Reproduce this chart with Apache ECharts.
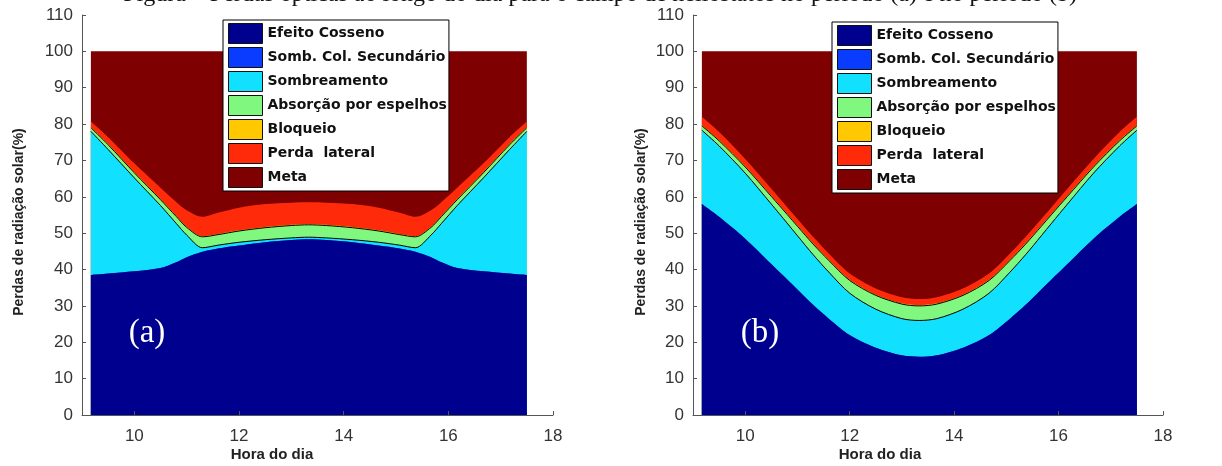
<!DOCTYPE html>
<html><head><meta charset="utf-8">
<script src="https://cdn.jsdelivr.net/npm/echarts@6/dist/echarts.min.js"></script>
<style>html,body{margin:0;padding:0;background:#fff}#c{width:1222px;height:466px}</style>
</head><body><div id="c"></div>
<script>
// ---- data ----
const hours = [9.17, 9.5, 10, 10.5, 10.8, 11.0, 11.3, 11.6, 12, 12.5, 13, 13.33, 13.67, 14.17, 14.67, 15.07, 15.37, 15.67, 15.87, 16.17, 16.67, 17.17, 17.5];
const seriesNames = ['Efeito Cosseno', 'Somb. Col. Secundário', 'Sombreamento', 'Absorção por espelhos', 'Bloqueio', 'Perda  lateral', 'Meta'];
const xTickValues = [10, 12, 14, 16, 18];

// chart (a)
const efeitoA = [38.5, 38.9, 39.5, 40.4, 42.0, 43.4, 44.9, 45.8, 46.6, 47.5, 48.1, 48.3, 48.1, 47.5, 46.6, 45.8, 44.9, 43.4, 42.0, 40.4, 39.5, 38.9, 38.5];
const sombColA = [0, 0, 0, 0, 0, 0, 0, 0, 0, 0, 0, 0, 0, 0, 0, 0, 0, 0, 0, 0, 0, 0, 0];
const sombA = [39.5, 34.1, 25.7, 17.2, 10.7, 6.1, 1.1, 0.9, 0.9, 0.7, 0.6, 0.6, 0.6, 0.7, 0.9, 0.9, 1.1, 6.1, 10.7, 17.2, 25.7, 34.1, 39.5];
const absA = [1.0, 1.3, 1.4, 1.6, 1.9, 2.1, 3.0, 2.9, 3.1, 3.3, 3.4, 3.4, 3.4, 3.3, 3.1, 2.9, 3.0, 2.1, 1.9, 1.6, 1.4, 1.3, 1.0];
const bloqA = [0.2, 0.2, 0.2, 0.2, 0.2, 0.2, 0.2, 0.2, 0.2, 0.2, 0.2, 0.2, 0.2, 0.2, 0.2, 0.2, 0.2, 0.2, 0.2, 0.2, 0.2, 0.2, 0.2];
const perdaA = [1.5, 1.9, 2.4, 3.1, 3.8, 4.5, 5.3, 5.8, 6.2, 6.3, 6.1, 6.0, 6.1, 6.3, 6.2, 5.8, 5.3, 4.5, 3.8, 3.1, 2.4, 1.9, 1.5];
const metaA = [19.3, 23.6, 30.8, 37.5, 41.4, 43.7, 45.5, 44.4, 43.0, 42.0, 41.6, 41.5, 41.6, 42.0, 43.0, 44.4, 45.5, 43.7, 41.4, 37.5, 30.8, 23.6, 19.3];

// chart (b)
const efeitoB = [58.0, 54.5, 48.5, 41.5, 37.3, 34.5, 30.3, 26.5, 22.0, 18.5, 16.4, 16.0, 16.4, 18.5, 22.0, 26.5, 30.3, 34.5, 37.3, 41.5, 48.5, 54.5, 58.0];
const sombColB = [0, 0, 0, 0, 0, 0, 0, 0, 0, 0, 0, 0, 0, 0, 0, 0, 0, 0, 0, 0, 0, 0, 0];
const sombB = [20.3, 19.5, 18.0, 16.5, 15.5, 14.8, 13.8, 12.8, 11.5, 10.6, 10.1, 10.0, 10.1, 10.6, 11.5, 12.8, 13.8, 14.8, 15.5, 16.5, 18.0, 19.5, 20.3];
const absB = [1.2, 1.4, 1.7, 2.1, 2.4, 2.6, 2.9, 3.2, 3.5, 3.8, 4.0, 4.0, 4.0, 3.8, 3.5, 3.2, 2.9, 2.6, 2.4, 2.1, 1.7, 1.4, 1.2];
const bloqB = [0.2, 0.2, 0.2, 0.2, 0.2, 0.2, 0.2, 0.2, 0.2, 0.2, 0.2, 0.2, 0.2, 0.2, 0.2, 0.2, 0.2, 0.2, 0.2, 0.2, 0.2, 0.2, 0.2];
const perdaB = [2.3, 2.2, 2.0, 1.9, 1.8, 1.8, 1.8, 1.7, 1.7, 1.7, 1.7, 1.7, 1.7, 1.7, 1.7, 1.7, 1.8, 1.8, 1.8, 1.9, 2.0, 2.2, 2.3];
const metaB = [18.0, 22.2, 29.6, 37.8, 42.8, 46.1, 51.0, 55.6, 61.1, 65.2, 67.6, 68.1, 67.6, 65.2, 61.1, 55.6, 51.0, 46.1, 42.8, 37.8, 29.6, 22.2, 18.0];

// ---- styles ----
const colors = ['#00008f', '#0a3cff', '#12e0ff', '#80f880', '#ffc800', '#ff2a0a', '#7f0000'];
const edgeWidths = [0, 0, 1, 1, 0, 0, 0];

function buildSeries(layers, idx) {
  let cum = hours.map(() => 0);
  const cums = layers.map(arr => { cum = cum.map((c, i) => c + arr[i]); return cum; });
  const out = [];
  for (let k = layers.length - 1; k >= 0; k--) {
    out.push({
      type: 'line', name: seriesNames[k], xAxisIndex: idx, yAxisIndex: idx,
      data: hours.map((h, i) => [h, +cums[k][i].toFixed(3)]),
      showSymbol: false, symbol: 'none', smooth: 0.3, silent: true,
      areaStyle: { color: colors[k], opacity: 1, origin: 'start' },
      lineStyle: { color: '#000', width: edgeWidths[k] },
      itemStyle: { color: colors[k] },
      z: 2
    });
  }
  return out;
}

const legendData = seriesNames.map((n, k) => ({ name: n, itemStyle: { color: colors[k], borderColor: '#111', borderWidth: 1 } }));

function legendAt(left, top) {
  return {
    left: left, top: top, orient: 'vertical', data: legendData, icon: 'rect',
    itemWidth: 34, itemHeight: 20, itemGap: 3, padding: [3, 2, 3, 5],
    backgroundColor: '#fff', borderColor: '#000', borderWidth: 1,
    selectedMode: false, z: 10,
    textStyle: { fontFamily: 'DejaVu Sans', fontSize: 14, fontWeight: 'bold', color: '#111' }
  };
}

function xAxisFor(idx) {
  return {
    type: 'value', gridIndex: idx, min: 9, max: 18, z: 5,
    axisLine: { show: true, onZero: false, lineStyle: { color: '#555', width: 1 } },
    axisTick: { show: true, inside: true, length: 4, customValues: xTickValues, lineStyle: { color: '#555' } },
    axisLabel: { customValues: xTickValues, color: '#333', fontSize: 17, fontFamily: 'Liberation Sans', margin: 13 },
    splitLine: { show: false }
  };
}
function yAxisFor(idx) {
  return {
    type: 'value', gridIndex: idx, min: 0, max: 110, interval: 10, z: 5,
    axisLine: { show: true, onZero: false, lineStyle: { color: '#555', width: 1 } },
    axisTick: { show: true, inside: true, length: 4, lineStyle: { color: '#555' } },
    axisLabel: { color: '#333', fontSize: 17, fontFamily: 'Liberation Sans', margin: 9 },
    splitLine: { show: false }
  };
}

const xNameStyle = { fontFamily: 'Liberation Sans', fontSize: 15, fontWeight: 'bold', fill: '#222' };
const yNameStyle = { fontFamily: 'Liberation Sans', fontSize: 14, fontWeight: 'bold', fill: '#222' };

const chart = echarts.init(document.getElementById('c'), null, { renderer: 'canvas' });
chart.setOption({
  animation: false,
  backgroundColor: '#fff',
  grid: [
    { left: 82, top: 15, width: 471, height: 400 },
    { left: 693, top: 15, width: 470, height: 400 }
  ],
  xAxis: [xAxisFor(0), xAxisFor(1)],
  yAxis: [yAxisFor(0), yAxisFor(1)],
  legend: [legendAt(223, 20), legendAt(832, 22)],
  series: buildSeries([efeitoA, sombColA, sombA, absA, bloqA, perdaA, metaA], 0)
    .concat(buildSeries([efeitoB, sombColB, sombB, absB, bloqB, perdaB, metaB], 1)),
  graphic: [
    { type: 'text', x: 600, y: 7, z: 20, style: { text: 'Figura – Perdas ópticas ao longo do dia para o campo de heliostatos no período (a) e no período (b)', font: '24px "Liberation Serif"', fill: '#111', align: 'center', verticalAlign: 'bottom' } },
    { type: 'text', x: 147, y: 333, z: 20, style: { text: '(a)', font: '33px "Liberation Serif"', fill: '#fff', align: 'center', verticalAlign: 'middle' } },
    { type: 'text', x: 760, y: 333, z: 20, style: { text: '(b)', font: '33px "Liberation Serif"', fill: '#fff', align: 'center', verticalAlign: 'middle' } },
    { type: 'text', x: 272, y: 455, z: 20, style: Object.assign({ text: 'Hora do dia', align: 'center', verticalAlign: 'middle' }, xNameStyle) },
    { type: 'text', x: 880, y: 455, z: 20, style: Object.assign({ text: 'Hora do dia', align: 'center', verticalAlign: 'middle' }, xNameStyle) },
    { type: 'text', x: 19, y: 222, rotation: Math.PI / 2, z: 20, style: Object.assign({ text: 'Perdas de radiação solar(%)', align: 'center', verticalAlign: 'middle' }, yNameStyle) },
    { type: 'text', x: 641, y: 222, rotation: Math.PI / 2, z: 20, style: Object.assign({ text: 'Perdas de radiação solar(%)', align: 'center', verticalAlign: 'middle' }, yNameStyle) }
  ]
});
</script>
</body></html>
